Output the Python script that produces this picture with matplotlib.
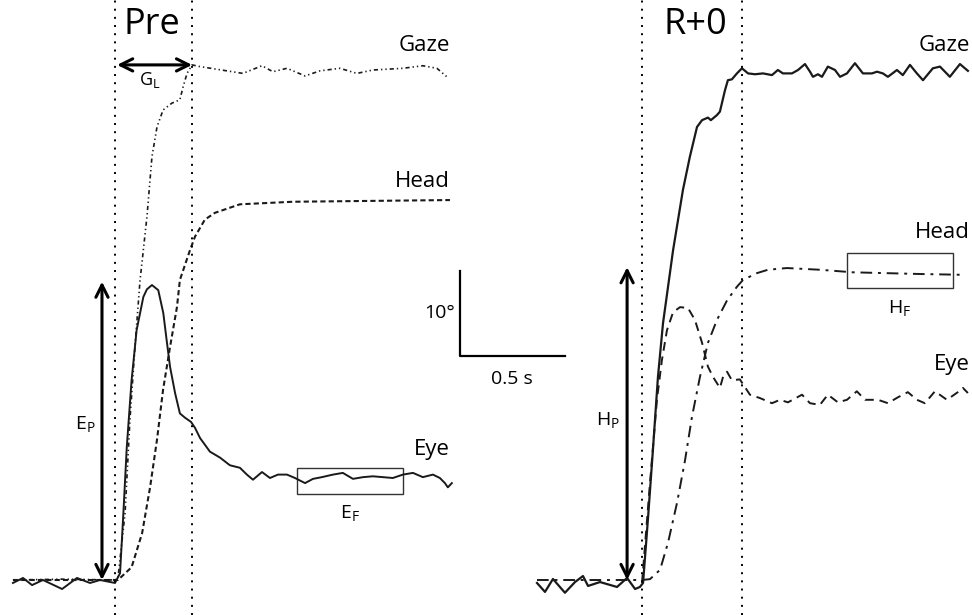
import numpy as np
import matplotlib
matplotlib.use("Agg")
import matplotlib.pyplot as plt
from matplotlib.patches import Rectangle

plt.rcParams['font.family'] = ['Open Sans', 'DejaVu Sans']
plt.rcParams['mathtext.fontset'] = 'custom'
plt.rcParams['mathtext.rm'] = 'Open Sans'
plt.rcParams['mathtext.it'] = 'Open Sans:italic'
plt.rcParams['mathtext.bf'] = 'Open Sans:bold'

# time in ms from saccade onset, angle in degrees
# --- Pre ---
pre_eye_t = [-486, -438, -395, -343, -252, -181, -119, -71, 0, 24, 40, 56, 79, 103, 135, 152, 176,
             206, 230, 246, 262, 286, 309, 333, 362, 381, 405, 452, 500, 547, 595, 628, 657, 700,
             738, 776, 819, 857, 905, 943, 985, 1038, 1085, 1133, 1181, 1228, 1276, 1323, 1371,
             1419, 1466, 1514, 1547, 1571, 1585, 1604]
pre_eye = [-0.35, 0.24, -0.6, 0.0, -1.06, 0.24, -0.35, 0.0, -0.35, 0.8, 7.9, 15.6, 23.5, 29.4,
           33.3, 34.2, 34.7, 34.1, 31.4, 28.2, 25.1, 22.0, 19.6, 19.1, 18.6, 17.9, 16.7, 15.1,
           14.4, 13.5, 13.2, 12.4, 11.8, 12.7, 12.0, 12.4, 12.4, 12.0, 11.4, 11.9, 12.1, 12.4,
           12.6, 11.9, 12.1, 12.2, 12.1, 12.0, 12.4, 12.6, 12.1, 12.4, 12.0, 11.4, 10.9, 11.4]

pre_gaze_t = [-486, -250, 0, 14, 48, 71, 95, 119, 152, 176, 200, 229, 271, 309, 324, 343, 367,
              405, 609, 700, 752, 819, 905, 976, 1071, 1152, 1228, 1371, 1466, 1533, 1585]
pre_gaze = [0.0, 0.1, 0.0, 0.2, 7.9, 18.8, 27.4, 35.2, 42.7, 49.8, 53.3, 55.3, 56.1, 56.5, 58.0,
            59.6, 60.6, 60.4, 59.6, 60.5, 59.8, 60.2, 59.3, 59.9, 60.2, 59.6, 60.0, 60.2, 60.5,
            60.2, 59.1]

pre_head_t = [-486, 0, 14, 79, 129, 167, 200, 229, 262, 295, 309, 357, 381, 428, 476, 595, 847, 1595]
pre_head = [0.0, 0.0, 0.0, 1.5, 5.5, 10.9, 16.5, 22.4, 27.4, 32.1, 35.3, 38.8, 40.4, 42.4, 43.2,
            44.2, 44.5, 44.7]

# --- R+0 ---
r0_gaze_t = [-500, -462, -424, -367, -319, -281, -257, -200, -119, -71, -33, -10, 5, 29, 52, 76,
             100, 148, 195, 228, 262, 286, 314, 328, 357, 371, 395, 409, 428, 452, 476, 505, 538,
             576, 619, 647, 671, 714, 743, 776, 800, 814, 838, 857, 885, 919, 943, 976, 1014,
             1052, 1095, 1119, 1147, 1171, 1214, 1242, 1276, 1309, 1338, 1385, 1419, 1466, 1514,
             1552]
r0_gaze = [-0.35, -1.4, 0.12, -1.5, -0.24, 0.47, -0.7, -0.24, -0.82, 0.24, -1.06, -0.82, -0.35,
           7.4, 15.3, 23.9, 30.2, 38.8, 45.9, 49.8, 53.3, 54.1, 54.4, 54.1, 54.7, 55.1, 57.6, 58.8,
           58.9, 59.6, 60.2, 59.6, 59.5, 59.6, 59.4, 60.0, 59.6, 59.6, 60.0, 60.7, 59.8, 59.2,
           59.5, 59.2, 60.4, 60.0, 59.2, 59.6, 60.8, 59.6, 59.6, 59.8, 59.6, 59.2, 60.0, 59.4,
           60.6, 59.6, 58.8, 60.2, 60.4, 59.2, 60.7, 59.9]

r0_head_t = [-500, 0, 38, 86, 124, 167, 205, 238, 276, 314, 357, 405, 452, 481, 547, 600, 690,
             847, 1004, 1323, 1538]
r0_head = [0.0, 0.0, 0.1, 1.2, 4.4, 9.1, 14.1, 19.2, 23.9, 27.9, 30.6, 32.9, 34.5, 35.3, 36.1,
           36.5, 36.7, 36.5, 36.2, 36.0, 35.9]

r0_eye_t = [0, 38, 71, 95, 119, 148, 181, 219, 252, 286, 314, 338, 371, 386, 405, 428, 466, 490,
            514, 562, 619, 657, 695, 762, 800, 847, 885, 933, 976, 1023, 1062, 1124, 1171, 1219,
            1266, 1309, 1347, 1395, 1452, 1504, 1528, 1552]
r0_eye = [-0.35, 11.4, 21.2, 25.9, 29.4, 31.5, 32.1, 32.0, 30.6, 27.9, 25.1, 23.9, 22.6, 23.9,
          24.5, 23.5, 23.6, 22.7, 21.8, 21.4, 20.8, 21.2, 20.9, 21.8, 20.8, 20.6, 21.8, 20.9,
          21.2, 22.2, 21.2, 21.2, 20.8, 21.5, 22.1, 21.2, 20.8, 22.2, 21.2, 22.1, 22.6, 22.0]

PX_MS = 0.21   # pixels per ms
PX_DEG = 8.5   # pixels per degree
W, H = 972, 615

fig = plt.figure(figsize=(9.72, 6.15), dpi=100)
fig.patch.set_facecolor('white')


def make_axes(left_px, right_px, onset_px):
    ax = fig.add_axes([left_px / W, 0, (right_px - left_px) / W, 1])
    ax.set_xlim(-(onset_px - left_px) / PX_MS, (right_px - onset_px) / PX_MS)
    ax.set_ylim(-(H - 580) / PX_DEG, 580 / PX_DEG)
    ax.axis('off')
    ax.patch.set_alpha(0)
    return ax


col = '#1a1a1a'
arrow = dict(arrowstyle='<->', lw=2.2, color='black', mutation_scale=22, shrinkA=0, shrinkB=0)
ax1 = make_axes(0, 620, 115)
ax2 = make_axes(486, 972, 642)

# Pre panel
ax1.plot(pre_head_t, pre_head, color=col, lw=1.5, ls=(0, (2.5, 1.5)))
ax1.plot(pre_gaze_t, pre_gaze, color=col, lw=1.2, ls=(0, (2.5, 1.8, 0.8, 1.8, 0.8, 1.8)))
ax1.plot(pre_eye_t, pre_eye, color=col, lw=1.4, ls='-', solid_joinstyle='round')
for t in [0, 367]:
    ax1.axvline(t, color='black', lw=1.4, ls=(0, (1, 3.2)))

ax1.text(176, 65.3, 'Pre', fontsize=26, ha='center', va='center')
ax1.text(1595, 62.9, 'Gaze', fontsize=16, ha='right', va='center')
ax1.text(1595, 46.9, 'Head', fontsize=16, ha='right', va='center')
ax1.text(1595, 15.3, 'Eye', fontsize=16, ha='right', va='center')

ax1.annotate('', xy=(10, 60.6), xytext=(367, 60.6), arrowprops=arrow)
ax1.text(167, 58.8, r'G$_{\mathrm{L}}$', fontsize=13, ha='center', va='center')
ax1.annotate('', xy=(-62, 0), xytext=(-62, 35.1), arrowprops=arrow)
ax1.text(-143, 18.3, r'E$_{\mathrm{P}}$', fontsize=14, ha='center', va='center')
ax1.add_patch(Rectangle((866, 10.1), 505, 3.1, fill=False, lw=1.0, ec='#333333'))
ax1.text(1119, 7.9, r'E$_{\mathrm{F}}$', fontsize=14, ha='center', va='center')

# scale bar
ax1.plot([1643, 1643, 2143], [36.35, 26.35, 26.35], color='black', lw=1.6)
ax1.text(1619, 31.4, '10°', fontsize=14, ha='right', va='center')
ax1.text(1890, 23.7, '0.5 s', fontsize=14, ha='center', va='center')

# R+0 panel
ax2.plot(r0_head_t, r0_head, color=col, lw=1.4, ls=(0, (6, 3, 1.5, 3)))
ax2.plot(r0_eye_t, r0_eye, color=col, lw=1.4, ls=(0, (4.5, 3)))
ax2.plot(r0_gaze_t, r0_gaze, color=col, lw=1.6, ls='-', solid_joinstyle='round')
for t in [0, 476]:
    ax2.axvline(t, color='black', lw=1.4, ls=(0, (1, 3.2)))

ax2.text(252, 65.3, 'R+0', fontsize=26, ha='center', va='center')
ax2.text(1562, 62.9, 'Gaze', fontsize=16, ha='right', va='center')
ax2.text(1562, 40.9, 'Head', fontsize=16, ha='right', va='center')
ax2.text(1562, 25.4, 'Eye', fontsize=16, ha='right', va='center')

ax2.annotate('', xy=(-71, 0), xytext=(-71, 36.8), arrowprops=arrow)
ax2.text(-162, 18.8, r'H$_{\mathrm{P}}$', fontsize=14, ha='center', va='center')
ax2.add_patch(Rectangle((976, 34.4), 505, 4.1, fill=False, lw=1.0, ec='#333333'))
ax2.text(1228, 32.0, r'H$_{\mathrm{F}}$', fontsize=14, ha='center', va='center')

fig.savefig('out.png', dpi=100, facecolor='white')
